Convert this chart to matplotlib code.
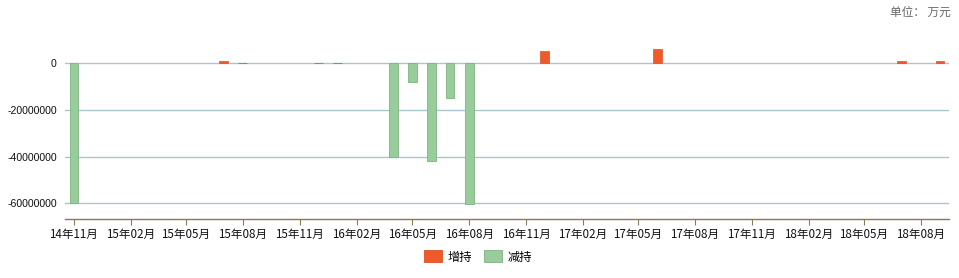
import datetime as dt

import matplotlib
matplotlib.use("Agg")
import matplotlib.pyplot as plt
import matplotlib.dates as mdates
from matplotlib.patches import Patch
from matplotlib.ticker import FixedLocator

plt.rcParams["font.family"] = ["Noto Sans CJK SC", "DejaVu Sans"]

# monthly net change (万元); positive = 增持, negative = 减持
inc_months = ["2015-07", "2015-08", "2015-12", "2016-01", "2016-12",
              "2017-06", "2018-07", "2018-09"]
inc_values = [1000000, 300000, 300000, 300000, 5300000,
              6100000, 1000000, 1000000]
dec_months = ["2014-11", "2016-04", "2016-05", "2016-06", "2016-07", "2016-08"]
dec_values = [-60000000, -40000000, -8000000, -42000000, -15000000, -60500000]

tick_months = ["2014-11", "2015-02", "2015-05", "2015-08", "2015-11", "2016-02",
               "2016-05", "2016-08", "2016-11", "2017-02", "2017-05", "2017-08",
               "2017-11", "2018-02", "2018-05", "2018-08"]
y_ticks = [0, -20000000, -40000000, -60000000]

RED = "#f05a2a"
RED_EDGE = "#d9502a"
GREEN = "#98cc9a"
GREEN_EDGE = "#7fb381"
GRID = "#a9c6cf"
AXIS = "#8a7a55"


def to_date(ym):
    y, m = ym.split("-")
    return dt.date(int(y), int(m), 1)


def cn_label(ym):
    y, m = ym.split("-")
    return f"{y[2:]}年{m}月"


fig = plt.figure(figsize=(9.59, 2.78), dpi=100)
ax = fig.add_axes([65 / 959, (278 - 218.5) / 278,
                   (948.5 - 65) / 959, (218.5 - 30.6) / 278])

w = 14  # days
ax.bar([mdates.date2num(to_date(m)) for m in inc_months], inc_values, width=w,
       color=RED, edgecolor=RED_EDGE, lw=0.5, zorder=3)
ax.bar([mdates.date2num(to_date(m)) for m in dec_months], dec_values, width=w,
       color=GREEN, edgecolor=GREEN_EDGE, lw=0.6, zorder=3)

x0 = mdates.date2num(dt.date(2014, 11, 1)) - 14.5
x1 = mdates.date2num(dt.date(2018, 9, 1)) + 14
ax.set_xlim(x0, x1)
ax.set_ylim(-66500000, 14000000)

ax.xaxis.set_major_locator(FixedLocator([mdates.date2num(to_date(m)) for m in tick_months]))
ax.set_xticklabels([cn_label(m) for m in tick_months], fontsize=8.4, color="#111111")
ax.set_yticks(y_ticks)
ax.set_yticklabels([str(v) for v in y_ticks], fontsize=7.6, color="#111111",
                   family=["Liberation Sans", "DejaVu Sans"])

ax.tick_params(axis="x", direction="out", length=4, width=0.8, color=AXIS, pad=3)
ax.tick_params(axis="y", length=0, pad=6)
ax.grid(axis="y", color=GRID, lw=1.0, zorder=0)
for side in ("left", "right", "top"):
    ax.spines[side].set_visible(False)
ax.spines["bottom"].set_color(AXIS)
ax.spines["bottom"].set_linewidth(1.0)

handles = [Patch(facecolor=RED, edgecolor=RED_EDGE, lw=0.6, label="增持"),
           Patch(facecolor=GREEN, edgecolor=GREEN_EDGE, lw=0.6, label="减持")]
fig.legend(handles=handles, loc="center", bbox_to_anchor=(478 / 959, 1 - 257 / 278),
           ncol=2, frameon=False, fontsize=8.8, handlelength=1.5, handleheight=1.1,
           handletextpad=0.5, columnspacing=0.9, borderpad=0)

fig.text(951 / 959, 1 - 12 / 278, "单位： 万元", ha="right", va="center",
         fontsize=8.4, color="#666666")

fig.savefig("out.png", dpi=100)
